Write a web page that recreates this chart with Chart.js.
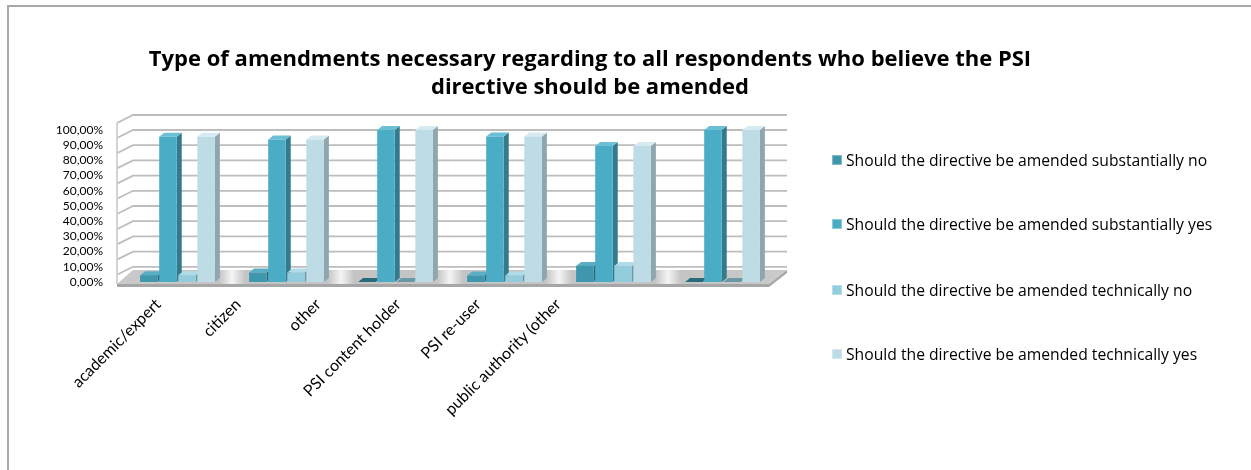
<!DOCTYPE html>
<html>
<head>
<meta charset="utf-8">
<script src="https://cdn.jsdelivr.net/npm/chart.js@4/dist/chart.umd.min.js"></script>
<style>
  html, body { margin: 0; padding: 0; background: #fff; }
  body { width: 1251px; height: 470px; position: relative; overflow: hidden; font-family: "Open Sans", sans-serif; }
  #frame { position: absolute; left: 7px; top: 5px; width: 1300px; height: 520px; border-top: 2px solid #a8a8a8; border-left: 2px solid #a8a8a8; }
  #chart { position: absolute; left: 0; top: 0; }
  .item { position: absolute; left: 832px; height: 18px; line-height: 18px; white-space: nowrap; font-size: 15.7px; color: #000; display: flex; align-items: center; }
  .box { width: 10px; height: 10px; margin-right: 4px; box-shadow: inset 0 0 0 1px rgba(255,255,255,0.35); }
</style>
</head>
<body>
<div id="frame"></div>
<canvas id="chart" width="1251" height="470"></canvas>
<div id="legend"></div>
<script>
// --- DATOS ---
const categories = ['academic/expert', 'citizen', 'other', 'PSI content holder', 'PSI re-user', 'public authority (other'];
const seriesNames = [
    'Should the directive be amended substantially no',
    'Should the directive be amended substantially yes',
    'Should the directive be amended technically no',
    'Should the directive be amended technically yes'
];
const substantiallyNo  = [4.5, 6.2, 0, 4.3, 10.6, 0];
const substantiallyYes = [95.5, 93.8, 100, 95.7, 89.4, 100];
const technicallyNo    = [4.5, 6.2, 0, 4.3, 10.6, 0];
const technicallyYes   = [95.5, 93.8, 100, 95.7, 89.4, 100];
const titleLines = ['Type of amendments necessary regarding to all respondents who believe the PSI', 'directive should be amended'];

// colores: cara frontal, lateral, superior
const frontColors = ['#3f97ae', '#4bacc6', '#93cddd', '#bddce6'];
const sideColors  = ['#2a6a7c', '#347a8d', '#6a98a5', '#8fa6ae'];
const topColors   = ['#5aaec4', '#6cc0d6', '#b0dce8', '#d6ebf1'];

const seriesData = [substantiallyNo, substantiallyYes, technicallyNo, technicallyYes];

// profundidad del efecto 3D
const DX = 5, DY = 4;

const threeD = {
    id: 'threeD',
    afterLayout(chart) {
        // centrar el título como en el original (sobre gráfico + leyenda)
        chart.titleBlock.left = 0;
        chart.titleBlock.right = 1180;
    },
    beforeDatasetsDraw(chart) {
        const { ctx, chartArea: a, scales } = chart;
        const y = scales.y;
        const L = a.left, R = a.right, B = a.bottom;
        ctx.save();

        // suelo
        const fl = ctx.createLinearGradient(L, 0, R, 0);
        fl.addColorStop(0, '#c9c9c9');
        const step = (R - L) / categories.length;
        for (let i = 1; i < categories.length; i++) {
            const p = (i * step) / (R - L);
            fl.addColorStop(Math.max(0, p - 0.02), '#c4c4c4');
            fl.addColorStop(p, '#f4f4f4');
            fl.addColorStop(Math.min(1, p + 0.02), '#c4c4c4');
        }
        fl.addColorStop(1, '#c9c9c9');
        ctx.fillStyle = fl;
        ctx.beginPath();
        ctx.moveTo(L - 6, B + 2);
        ctx.lineTo(R - 8, B + 2);
        ctx.lineTo(R + 10, B - 12);
        ctx.lineTo(L + 10, B - 12);
        ctx.closePath();
        ctx.fill();
        ctx.fillStyle = '#a6a6a6';
        ctx.beginPath();
        ctx.moveTo(L - 6, B + 2);
        ctx.lineTo(R - 8, B + 2);
        ctx.lineTo(R + 10, B - 12);
        ctx.lineTo(R + 10, B - 9);
        ctx.lineTo(R - 8, B + 5);
        ctx.lineTo(L - 6, B + 5);
        ctx.closePath();
        ctx.fill();

        // rejilla de la pared
        ctx.strokeStyle = '#bdbdbd';
        ctx.lineWidth = 1.8;
        const ticks = y.ticks.map(t => y.getPixelForValue(t.value));
        const wallTop = y.getPixelForValue(100) - 15;
        ticks.concat([wallTop]).forEach(py => {
            if (py > B - 1) return;
            ctx.beginPath();
            ctx.moveTo(L - 6, py + 8);
            ctx.lineTo(L + 10, py);
            ctx.lineTo(R + 10, py);
            ctx.stroke();
        });
        ctx.strokeStyle = '#d0d0d0';
        ctx.beginPath();
        ctx.moveTo(L - 6, wallTop + 8);
        ctx.lineTo(L - 6, B + 2);
        ctx.stroke();

        // caras laterales y superiores de las barras
        chart.data.datasets.forEach((ds, di) => {
            const meta = chart.getDatasetMeta(di);
            meta.data.forEach(el => {
                const { x, y: top, base, width } = el.getProps(['x', 'y', 'base', 'width'], true);
                const l = x - width / 2, r = x + width / 2;
                ctx.fillStyle = sideColors[di];
                ctx.beginPath();
                ctx.moveTo(r, top);
                ctx.lineTo(r + DX, top - DY);
                ctx.lineTo(r + DX, base - DY);
                ctx.lineTo(r, base);
                ctx.closePath();
                ctx.fill();
                ctx.fillStyle = (base - top) < 1 ? sideColors[di] : topColors[di];
                ctx.beginPath();
                ctx.moveTo(l, top);
                ctx.lineTo(l + DX, top - DY);
                ctx.lineTo(r + DX, top - DY);
                ctx.lineTo(r, top);
                ctx.closePath();
                ctx.fill();
            });
        });
        ctx.restore();
    }
};

const ctx = document.getElementById('chart').getContext('2d');
new Chart(ctx, {
    type: 'bar',
    data: {
        labels: categories,
        datasets: seriesNames.map((name, i) => ({
            label: name,
            data: seriesData[i],
            backgroundColor: frontColors[i],
            borderWidth: 0,
            categoryPercentage: 0.7,
            barPercentage: 0.92,
            xAxisID: 'x',
            yAxisID: 'y'
        }))
    },
    options: {
        responsive: false,
        animation: false,
        layout: { padding: { top: 46, left: 0, right: 474, bottom: 0 } },
        plugins: {
            legend: { display: false },
            tooltip: { enabled: false },
            title: {
                display: true,
                text: titleLines,
                color: '#000',
                font: { family: 'Open Sans', size: 22, weight: 'bold', lineHeight: 28 / 22 },
                padding: { top: 0, bottom: 28 }
            }
        },
        scales: {
            x: { type: 'category', display: false, offset: true },
            // eje de etiquetas (espaciado distinto al de las barras, como en el original)
            x2: {
                type: 'linear',
                position: 'bottom',
                offset: false,
                min: -0.44,
                max: 7.735,
                grid: { display: false, drawTicks: false },
                border: { display: false },
                afterBuildTicks: (s) => { s.ticks = categories.map((_, i) => ({ value: i })); },
                afterFit: (s) => { s.height = 188; },
                ticks: {
                    autoSkip: false,
                    minRotation: 45,
                    maxRotation: 45,
                    padding: 13,
                    color: '#000',
                    font: { family: 'Lato', size: 16 },
                    callback: (v) => categories[v]
                }
            },
            y: {
                min: 0,
                max: 100,
                grid: { display: false, drawTicks: false },
                border: { display: false },
                afterFit: (s) => { s.width = 123; },
                ticks: {
                    stepSize: 10,
                    autoSkip: false,
                    padding: 20,
                    color: '#000',
                    font: { family: 'Lato', size: 12 },
                    callback: (v) => v.toFixed(2).replace('.', ',') + '%'
                }
            }
        }
    },
    plugins: [threeD]
});

// leyenda HTML
const legendY = [160, 224, 290, 354];
const legend = document.getElementById('legend');
seriesNames.forEach((name, i) => {
    const item = document.createElement('div');
    item.className = 'item';
    item.style.top = (legendY[i] - 9) + 'px';
    item.innerHTML = `<span class="box" style="background:${frontColors[i]}"></span><span>${name}</span>`;
    legend.appendChild(item);
});
</script>
</body>
</html>
